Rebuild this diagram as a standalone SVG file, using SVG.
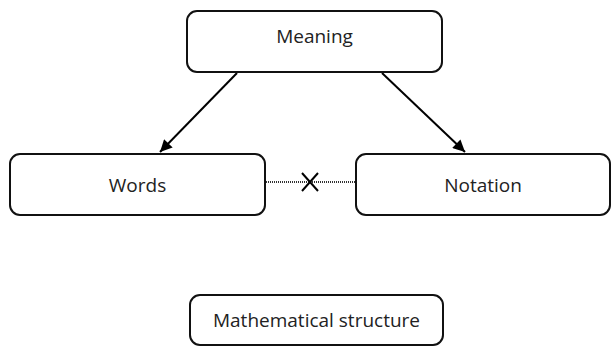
<svg xmlns="http://www.w3.org/2000/svg" width="613" height="357" viewBox="0 0 613 357">
<defs>
<marker id="arrow" viewBox="0 0 10 10" refX="10" refY="5" markerWidth="6.5" markerHeight="6" markerUnits="strokeWidth" orient="auto">
<path d="M0,0 L10,5 L0,10 z" fill="#000"/>
</marker>
<style>
.box{fill:#fff;stroke:#111;stroke-width:2}
.lbl{font-family:"Open Sans","Liberation Sans",sans-serif;font-size:19px;fill:#222;text-anchor:middle}
.edge{stroke:#000;stroke-width:2;fill:none}
.dot{stroke:#333;stroke-width:2.2;stroke-dasharray:1 1;fill:none}
</style>
</defs>
<g id="connectors">
<line class="edge" x1="237" y1="73" x2="160" y2="152" marker-end="url(#arrow)"/>
<line class="edge" x1="382" y1="73" x2="465" y2="152" marker-end="url(#arrow)"/>
<line class="dot" x1="266" y1="182" x2="355" y2="182"/>
<path class="edge" d="M302,173 L318,191 M318,173 L302,191" stroke-width="1.8"/>
</g>
<g id="meaning">
<rect class="box" x="187" y="11" width="255" height="61" rx="10"/>
<text class="lbl" x="314.5" y="43">Meaning</text>
</g>
<g id="words">
<rect class="box" x="10" y="154" width="255" height="61" rx="10"/>
<text class="lbl" x="137.5" y="192">Words</text>
</g>
<g id="notation">
<rect class="box" x="356" y="154" width="254" height="61" rx="10"/>
<text class="lbl" x="483" y="192">Notation</text>
</g>
<g id="math">
<rect class="box" x="190" y="295" width="253" height="50" rx="10"/>
<text class="lbl" x="316.5" y="327">Mathematical structure</text>
</g>
</svg>
